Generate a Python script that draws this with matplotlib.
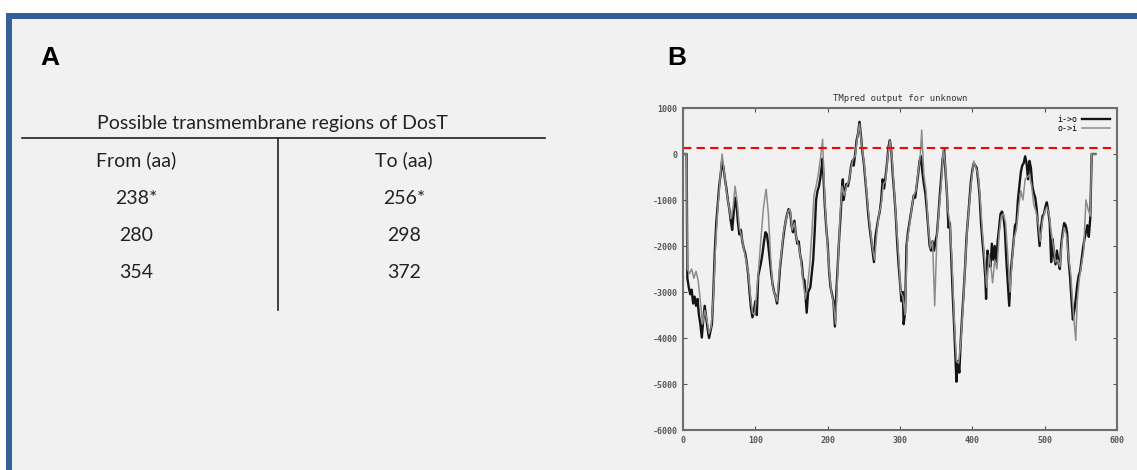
import matplotlib
matplotlib.use("Agg")
import matplotlib.pyplot as plt
from matplotlib.patches import Rectangle
from matplotlib.lines import Line2D

# table of predicted transmembrane segments
table_title = "Possible transmembrane regions of DosT"
col_heads = ["From (aa)", "To (aa)"]
tm_from = ["238*", "280", "354"]
tm_to = ["256*", "298", "372"]

# TMpred profile, inside->outside orientation (residue, score)
io_pos = [1, 5, 6, 8, 10, 12, 14, 16, 18, 20, 22, 24, 26, 28, 30, 32, 34, 36, 38, 40,
          42, 44, 46, 48, 50, 52, 54, 56, 58, 60, 62, 64, 66, 68, 70, 72, 74, 76, 78, 80,
          82, 84, 86, 88, 90, 92, 94, 96, 98, 100, 102, 104, 106, 108, 110, 112, 114, 116, 118, 120,
          122, 124, 126, 128, 130, 132, 134, 136, 138, 140, 142, 144, 146, 148, 150, 152, 154, 156, 158, 160,
          162, 164, 166, 168, 170, 171, 173, 176, 178, 180, 182, 184, 186, 188, 190, 192, 193, 196, 198, 200,
          202, 204, 206, 208, 210, 212, 214, 216, 218, 220, 221, 222, 224, 226, 228, 230, 232, 234, 236, 238,
          240, 242, 244, 246, 248, 250, 252, 254, 256, 258, 260, 262, 264, 266, 268, 270, 272, 274, 276, 278,
          280, 282, 284, 286, 288, 290, 292, 294, 296, 298, 300, 302, 304, 305, 307, 309, 311, 313, 315, 317,
          319, 321, 323, 325, 327, 329, 331, 333, 335, 337, 339, 341, 343, 345, 347, 349, 351, 353, 355, 357,
          359, 361, 363, 365, 367, 369, 371, 373, 375, 377, 378, 380, 382, 384, 386, 388, 390, 392, 394, 396,
          398, 400, 402, 404, 406, 408, 410, 412, 414, 416, 418, 419, 421, 423, 425, 427, 429, 431, 433, 435,
          437, 439, 441, 443, 445, 447, 449, 451, 453, 455, 457, 459, 461, 463, 465, 467, 469, 471, 473, 475,
          477, 479, 481, 483, 485, 487, 489, 491, 493, 495, 497, 499, 501, 503, 505, 507, 509, 511, 513, 515,
          517, 519, 521, 523, 525, 527, 529, 531, 533, 535, 537, 539, 541, 543, 545, 547, 549, 551, 553, 555,
          557, 559, 561, 563, 564, 565, 570]
io_score = [0, 0, -2700, -2900, -3050, -2950, -3250, -3100, -3300, -3150, -3500, -3700, -3990, -3600, -3300, -3550, -3800, -4000, -3850, -3700,
            -3000, -2100, -1500, -1100, -700, -450, -150, -300, -550, -750, -1000, -1200, -1450, -1650, -1300, -950, -1100, -1500, -1750, -1650,
            -1900, -2050, -2150, -2350, -2600, -3000, -3350, -3550, -3400, -3200, -3500, -2650, -2500, -2350, -2150, -1900, -1700, -1750, -2000, -2300,
            -2600, -2850, -3000, -3100, -3250, -2950, -2500, -2200, -1900, -1650, -1450, -1300, -1200, -1250, -1550, -1700, -1450, -1750, -1950, -1900,
            -2200, -2350, -2700, -2750, -3200, -3450, -3000, -2900, -2600, -2300, -1700, -1000, -800, -700, -500, -250, -100, -1100, -1600, -1950,
            -2550, -2900, -3050, -3200, -3750, -3000, -2400, -1800, -1300, -700, -550, -1000, -800, -650, -700, -550, -300, -150, -250, 0,
            300, 450, 700, 400, 50, -200, -550, -900, -1300, -1600, -1850, -2100, -2350, -1800, -1600, -1400, -1250, -1000, -550, -750,
            -500, -200, 150, 300, 50, -450, -850, -1300, -1900, -2400, -2800, -3200, -3000, -3700, -3450, -2000, -1700, -1500, -1300, -1100,
            -900, -950, -700, -450, -150, -50, -400, -650, -850, -1200, -1600, -2000, -2100, -1900, -2100, -1900, -1750, -1350, -900, -500,
            -100, 100, -400, -900, -1600, -1500, -2300, -3100, -3800, -4600, -4950, -4500, -4750, -4050, -3500, -3000, -2450, -1800, -1400, -1000,
            -600, -350, -200, -250, -300, -550, -900, -1500, -1900, -2250, -2700, -3150, -2100, -2300, -2450, -1950, -2300, -2000, -2350, -1900,
            -1600, -1300, -1250, -1350, -1650, -2300, -2800, -3300, -2600, -2250, -1900, -1550, -1500, -1000, -700, -400, -250, -200, -50, -200,
            -550, -150, -300, -700, -850, -950, -1200, -1600, -2000, -1600, -1350, -1300, -1150, -1050, -1250, -1500, -2350, -1850, -2200, -2400,
            -2100, -2350, -2500, -1950, -1700, -1500, -1550, -1700, -2300, -2650, -3150, -3600, -3400, -3150, -2850, -2650, -2550, -2300, -2050, -1850,
            -1700, -1550, -1800, -1400, -700, 0, 0]

# outside->inside orientation
oi_pos = [1, 5, 6, 9, 12, 15, 18, 21, 24, 27, 30, 33, 36, 39, 42, 45, 48, 51, 54, 57,
          60, 63, 66, 69, 72, 75, 78, 81, 84, 87, 90, 93, 96, 99, 102, 105, 108, 111, 114, 115,
          118, 121, 124, 127, 130, 133, 136, 139, 142, 145, 148, 151, 154, 157, 160, 163, 166, 169, 172, 175,
          178, 181, 184, 187, 190, 193, 196, 199, 202, 205, 208, 211, 214, 217, 220, 223, 226, 229, 232, 235,
          238, 241, 244, 247, 250, 253, 256, 259, 262, 265, 268, 271, 274, 277, 280, 283, 286, 289, 292, 295,
          298, 301, 304, 307, 310, 313, 316, 319, 322, 325, 328, 330, 333, 336, 339, 342, 345, 348, 351, 354,
          357, 360, 363, 366, 369, 372, 375, 378, 381, 384, 387, 390, 393, 396, 399, 402, 405, 408, 411, 414,
          417, 420, 423, 426, 428, 431, 434, 437, 440, 443, 446, 449, 452, 455, 458, 461, 464, 467, 470, 473,
          476, 479, 482, 485, 488, 491, 494, 497, 500, 503, 506, 509, 512, 515, 518, 521, 524, 527, 530, 533,
          536, 539, 541, 543, 545, 548, 551, 554, 557, 560, 563, 565, 570]
oi_score = [0, 0, -2500, -2600, -2500, -2700, -2550, -2750, -3200, -3700, -3400, -3600, -3900, -3750, -3100, -2000, -1200, -600, 0, -400,
            -800, -1100, -1400, -1200, -700, -1050, -1600, -1800, -2050, -2300, -2550, -3050, -3450, -3500, -3000, -2400, -1800, -1200, -850, -770,
            -1300, -2200, -2900, -3050, -3200, -2600, -2150, -1700, -1450, -1250, -1200, -1650, -1500, -1850, -2000, -2300, -2750, -3150, -2900, -2450,
            -1750, -900, -700, -450, -100, 320, -1000, -1800, -2500, -3000, -3250, -3700, -2500, -1400, -700, -900, -700, -600, -350, -100,
            -50, 350, 650, 200, -150, -650, -1200, -1650, -2050, -2300, -1700, -1300, -1100, -650, -600, -50, 300, -100, -800, -1500,
            -2200, -3000, -3100, -3500, -1900, -1550, -1200, -900, -800, -400, -50, 520, -450, -800, -1550, -2050, -1900, -3300, -1800, -1200,
            -650, 130, -300, -1200, -1500, -2400, -3600, -4500, -4550, -4100, -3350, -2450, -1600, -1050, -550, -150, -300, -450, -1000, -1700,
            -2300, -2900, -2200, -2500, -2800, -2300, -2500, -1750, -1350, -1300, -1500, -2200, -3000, -2300, -1800, -1650, -1150, -800, -1000, -550,
            -500, -450, -700, -1100, -1250, -1500, -1900, -1450, -1250, -1150, -1300, -1700, -2000, -2350, -2300, -2450, -1900, -1600, -1750, -2250,
            -2600, -3300, -3700, -4050, -3200, -2700, -2400, -2100, -1000, -1200, -1350, 0, 0]

threshold = 140

W, H = 1137, 470
fig = plt.figure(figsize=(W / 100, H / 100), dpi=100, facecolor="white")


def fx(x):
    return x / W


def fy(y):
    return 1 - y / H


# framed panel background
fig.patches.append(Rectangle((fx(6), 0), 1, fy(13), transform=fig.transFigure,
                             facecolor="#34609a", edgecolor="none", zorder=-2))
fig.patches.append(Rectangle((fx(12), 0), 1, fy(19), transform=fig.transFigure,
                             facecolor="#f1f1f1", edgecolor="none", zorder=-1))

# panel letters
fig.text(fx(40), fy(58), "A", fontsize=19, fontweight="bold", family="Liberation Sans", va="center")
fig.text(fx(667), fy(58), "B", fontsize=19, fontweight="bold", family="Liberation Sans", va="center")

# panel A: table
tfont = dict(family="Lato", fontsize=14, color="#222222", ha="center", va="center")
fig.text(fx(272), fy(123), table_title, **tfont)
fig.add_artist(Line2D([fx(22), fx(545)], [fy(138), fy(138)], color="#222222", lw=1.2))
fig.add_artist(Line2D([fx(278), fx(278)], [fy(138), fy(310)], color="#222222", lw=1.2))
fig.text(fx(136), fy(160), col_heads[0], **tfont)
fig.text(fx(404), fy(160), col_heads[1], **tfont)
for i in range(len(tm_from)):
    y = 198 + i * 37.5
    fig.text(fx(136), fy(y), tm_from[i], **tfont)
    fig.text(fx(404), fy(y), tm_to[i], **tfont)

# panel B: TMpred plot
ax = fig.add_axes([fx(683), fy(430), fx(1117) - fx(683), fy(108) - fy(430)], zorder=2)
ax.set_facecolor("#f1f1f1")
ax.plot(io_pos, io_score, color="#151515", lw=1.7, label="i->o")
ax.plot(oi_pos, oi_score, color="#8c8c8c", lw=1.1, label="o->i")
ax.axhline(threshold, color="red", lw=1.5, dashes=(4, 2.5))
ax.set_xlim(0, 600)
ax.set_ylim(-6000, 1000)
ax.set_xticks(range(0, 601, 100))
ax.set_yticks(range(-6000, 1001, 1000))
mono = dict(family="DejaVu Sans Mono", size=6, weight="bold")
ax.set_xticklabels([str(v) for v in range(0, 601, 100)], **mono, color="#333333")
ax.set_yticklabels([str(v) for v in range(-6000, 1001, 1000)], **mono, color="#333333")
ax.tick_params(direction="in", length=3, width=0.8, top=True, right=True, pad=4, colors="#555555")
for s in ax.spines.values():
    s.set_color("#6e6e6e")
    s.set_linewidth(1.5)
ax.set_title("TMpred output for unknown", family="DejaVu Sans Mono", fontsize=6.4, pad=5, color="#333333")
leg = ax.legend(loc="upper right", frameon=False, markerfirst=False, handlelength=3.4,
                prop=dict(family="DejaVu Sans Mono", size=6), borderaxespad=0.4, labelspacing=0.0,
                handletextpad=0.6)

fig.savefig("out.png", dpi=100, facecolor=fig.get_facecolor())
